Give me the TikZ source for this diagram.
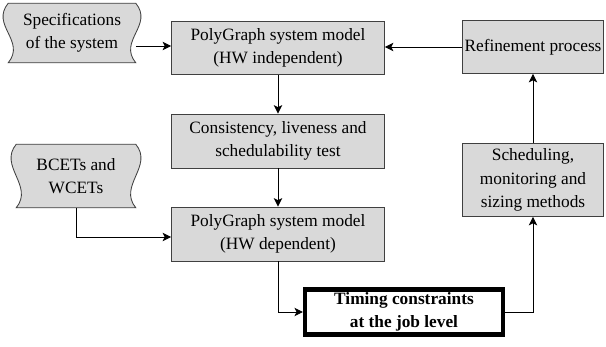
\documentclass[tikz,border=0pt]{standalone}
\usepackage{fontspec}
\setmainfont{Liberation Serif}
\usepackage{tikz}
\usetikzlibrary{calc, arrows.meta, backgrounds, positioning}

\tikzset{
    blk/.style={draw=black!75, fill=black!15, semithick, align=center,
        inner sep=1pt, font=\fontsize{12.3}{16.5}\selectfont},
    inp/.style={align=center, inner sep=1pt, font=\fontsize{12.3}{16.5}\selectfont},
    res/.style={draw=black, fill=white, line width=3pt, align=center,
        inner sep=1pt, font=\fontsize{12.3}{16.5}\selectfont\bfseries},
    link/.style={-{Stealth[length=6pt, width=6pt, inset=1.5pt]}, semithick}
}

\begin{document}
\begin{tikzpicture}[x=0.025cm, y=-0.025cm]
    \useasboundingbox (0,0) rectangle (606,347);

    % Inputs
    \node[inp, minimum width=127*0.025cm, minimum height=59*0.025cm] (spec) at (72,33)
        {Specifications\\of the system};
    \node[inp, minimum width=119*0.025cm, minimum height=63*0.025cm] (bcet) at (76,176)
        {BCETs and\\WCETs};

    % wavy sides of the inputs
    \begin{scope}[on background layer]
        \foreach \n in {spec, bcet} {
            \draw[draw=black!75, fill=black!15, semithick]
                (\n.north west) .. controls ($(\n.north west)+(-18,22)$)
                    and ($(\n.south west)+(18,-22)$) .. (\n.south west)
                -- (\n.south east) .. controls ($(\n.south east)+(-18,-22)$)
                    and ($(\n.north east)+(18,22)$) .. (\n.north east)
                -- cycle;
        }
    \end{scope}

    % Blocks
    \node[blk, minimum width=213*0.025cm, minimum height=53*0.025cm] (pgi) at (278,48)
        {PolyGraph system model\\(HW independent)};
    \node[blk, minimum width=213*0.025cm, minimum height=54*0.025cm] (test) at (278,141)
        {Consistency, liveness and\\schedulability test};
    \node[blk, minimum width=213*0.025cm, minimum height=54*0.025cm] (pgd) at (278,234)
        {PolyGraph system model\\(HW dependent)};
    \node[res, minimum width=198*0.025cm, minimum height=45*0.025cm] (tc) at (404,312)
        {Timing constraints\\at the job level};
    \node[blk, minimum width=141*0.025cm, minimum height=73*0.025cm] (sched) at (533,180)
        {Scheduling,\\monitoring and\\sizing methods};
    \node[blk, minimum width=141*0.025cm, minimum height=53*0.025cm] (ref) at (533,47)
        {Refinement process};

    % Links
    \draw[link] (spec.east |- 0,46) -- (pgi.west |- 0,46);
    \draw[link] (ref.west) -- (pgi.east |- ref.west);
    \draw[link] (pgi) -- (test);
    \draw[link] (test) -- (pgd);
    \draw[link] (bcet.south) |- (pgd.west |- 0,237);
    \draw[link] (pgd.south) |- (tc.west);
    \draw[link] (tc.east) -| (sched.south);
    \draw[link] (sched) -- (ref);

\end{tikzpicture}
\end{document}
